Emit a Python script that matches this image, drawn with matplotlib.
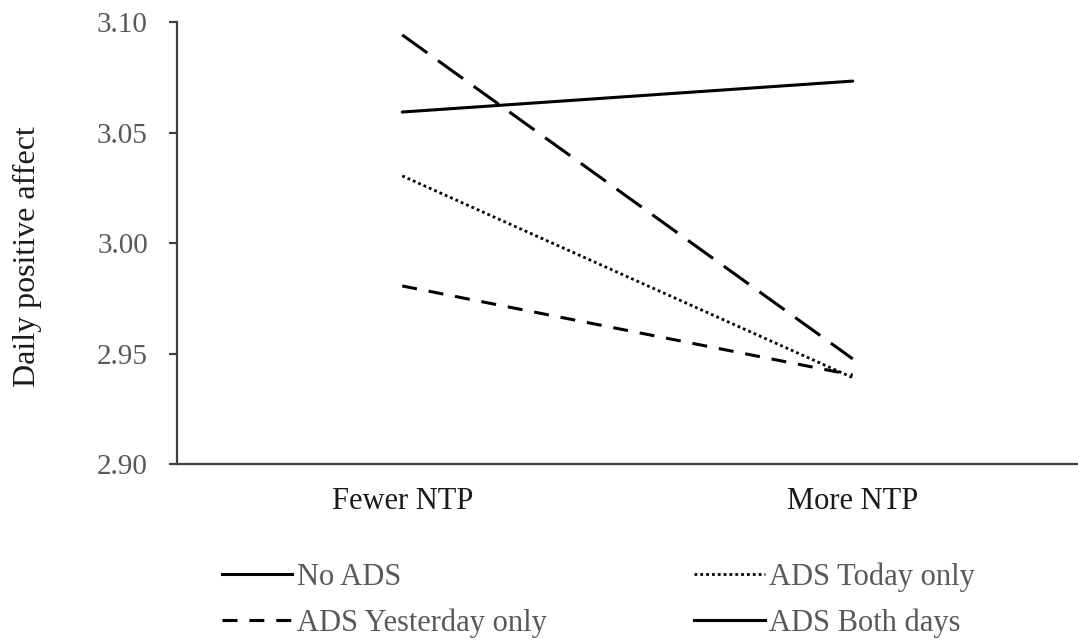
import matplotlib
matplotlib.use("Agg")
import matplotlib.pyplot as plt
from matplotlib.lines import Line2D

# ---- data ----
categories = ["Fewer NTP", "More NTP"]
no_ads = [3.0594, 3.0734]
ads_today_only = [3.0305, 2.9392]
ads_yesterday_only = [2.9807, 2.9404]
ads_both_days = [3.0943, 2.9477]
y_ticks = [2.90, 2.95, 3.00, 3.05, 3.10]
y_tick_labels = ["2.90", "2.95", "3.00", "3.05", "3.10"]
series_labels = ["No ADS", "ADS Today only", "ADS Yesterday only", "ADS Both days"]

plt.rcParams['font.family'] = ['Liberation Serif', 'DejaVu Serif']

W, H = 1078, 641
fig = plt.figure(figsize=(W / 100, H / 100), dpi=100)
ax = fig.add_axes([177 / W, 1 - 464.3 / H, 1 - 177 / W, (464.3 - 22.3) / H])

x = list(range(len(categories)))
lw = 2.2
ax.plot(x, no_ads, color='black', lw=lw, solid_capstyle='round')
ax.plot(x, ads_today_only, color='black', lw=2.0, dashes=(1, 1.1))
ax.plot(x, ads_yesterday_only, color='black', lw=lw, dashes=(4.9, 3.9))
ax.plot(x, ads_both_days, color='black', lw=lw, dashes=(10.1, 4.3))

ax.set_xlim(-0.5, 1.5)
ax.set_ylim(2.90, 3.10)
ax.set_yticks(y_ticks)
ax.set_yticklabels(y_tick_labels)
ax.set_xticks(x)
ax.set_xticklabels(categories)

for s in ['top', 'right']:
    ax.spines[s].set_visible(False)
for s in ['left', 'bottom']:
    ax.spines[s].set_color('#404040')
    ax.spines[s].set_linewidth(1.6)

ax.tick_params(axis='y', length=6, width=1.6, color='#404040', pad=15,
               labelsize=21, labelcolor='#595959')
ax.tick_params(axis='x', length=0, pad=16, labelsize=22, labelcolor='#1a1a1a')

ax.set_ylabel("Daily positive affect", fontsize=23, color='#1a1a1a')
ax.yaxis.set_label_coords((42 - 177) / (W - 177), 0.5 - 13 / 442)

handles = [
    Line2D([], [], color='black', lw=lw),
    Line2D([], [], color='black', lw=lw, dashes=(4.9, 3.9)),
    Line2D([], [], color='black', lw=2.0, dashes=(1, 1.1)),
    Line2D([], [], color='black', lw=lw),
]
labels = [series_labels[0], series_labels[2], series_labels[1], series_labels[3]]
leg = fig.legend(handles, labels, loc='center left', bbox_to_anchor=(222 / W, 1 - 600 / H),
                 ncol=2, frameon=False, fontsize=22, handlelength=2.3, handletextpad=0.15,
                 columnspacing=4.83, labelspacing=0.55, borderpad=0, borderaxespad=0)
for t in leg.get_texts():
    t.set_color('#595959')

fig.savefig("out.png", dpi=100)
